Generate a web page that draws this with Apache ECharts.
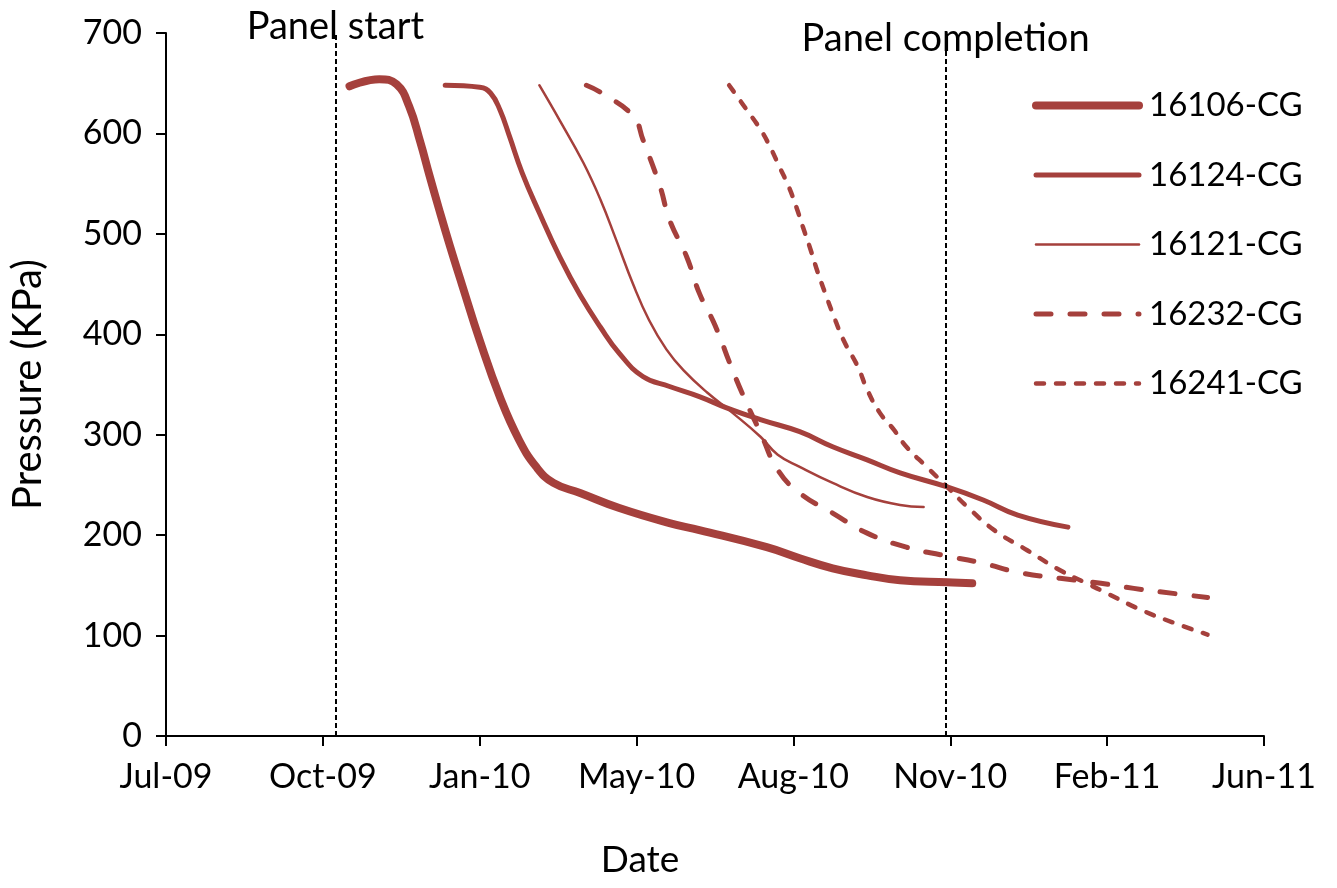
<!DOCTYPE html>
<html>
<head>
<meta charset="utf-8">
<script src="https://cdn.jsdelivr.net/npm/echarts@6/dist/echarts.min.js"></script>
<style>
  html, body { margin: 0; padding: 0; background: #fff; }
  #chart { width: 1337px; height: 888px; }
</style>
</head>
<body>
<div id="chart"></div>
<script>
// Gas pressure readings (KPa) by date for each gauge
const seriesNames = ['16106-CG', '16124-CG', '16121-CG', '16232-CG', '16241-CG'];

const dates16106 = ['2009-10-31','2009-11-19','2009-11-30','2009-12-08','2009-12-15','2009-12-21','2009-12-27','2010-01-03','2010-01-11','2010-01-22','2010-02-04','2010-02-16','2010-02-27','2010-03-10','2010-03-27','2010-04-21','2010-05-23','2010-06-11','2010-07-24','2010-08-14','2010-09-04','2010-09-26','2010-10-17','2010-11-16','2010-12-02'];
const kpa16106   = [647, 654, 649, 627, 592, 558, 525, 488, 448, 394, 337, 295, 268, 252, 242, 227, 212, 205, 188, 177, 167, 160, 155, 153, 152];

const dates16124 = ['2009-12-31','2010-01-22','2010-01-29','2010-02-04','2010-02-10','2010-02-18','2010-03-01','2010-03-14','2010-03-27','2010-04-09','2010-04-21','2010-05-06','2010-05-23','2010-06-11','2010-06-28','2010-07-20','2010-08-14','2010-09-04','2010-09-26','2010-10-17','2010-11-16','2010-12-09','2010-12-31','2011-02-01'];
const kpa16124   = [648, 646, 640, 623, 597, 561, 521, 477, 439, 407, 381, 358, 348, 338, 327, 315, 303, 288, 275, 262, 248, 235, 220, 208];

const dates16121 = ['2010-03-01','2010-03-14','2010-03-29','2010-04-09','2010-04-19','2010-04-30','2010-05-10','2010-05-21','2010-06-01','2010-06-16','2010-07-02','2010-07-20','2010-07-31','2010-08-14','2010-09-04','2010-09-26','2010-10-17','2010-11-01'];
const kpa16121   = [648, 613, 571, 534, 494, 449, 414, 385, 364, 342, 322, 298, 280, 268, 252, 238, 230, 228];

const dates16232 = ['2010-03-31','2010-04-10','2010-04-30','2010-05-06','2010-05-17','2010-05-23','2010-06-03','2010-06-11','2010-06-21','2010-07-02','2010-07-11','2010-07-20','2010-07-31','2010-08-14','2010-09-04','2010-09-26','2010-10-21','2010-11-13','2010-12-09','2010-12-31','2011-01-27','2011-02-22','2011-03-15','2011-04-09','2011-05-01'];
const kpa16232   = [648, 640, 617, 594, 547, 514, 477, 441, 409, 365, 332, 302, 265, 242, 222, 202, 188, 180, 172, 163, 157, 152, 147, 142, 138];

const dates16241 = ['2010-06-30','2010-07-11','2010-07-20','2010-07-26','2010-08-01','2010-08-07','2010-08-12','2010-08-16','2010-08-21','2010-08-25','2010-08-30','2010-09-04','2010-09-11','2010-09-20','2010-09-26','2010-10-04','2010-10-13','2010-10-21','2010-11-03','2010-11-16','2010-11-29','2010-12-16','2011-01-06','2011-01-27','2011-02-13','2011-02-26','2011-03-19','2011-04-09','2011-05-01'];
const kpa16241   = [648, 624, 604, 587, 567, 547, 526, 507, 484, 464, 442, 421, 394, 368, 345, 322, 305, 288, 268, 248, 228, 205, 185, 165, 152, 142, 126, 113, 101];

// Panel milestones drawn as vertical reference lines
const panelEvents = [
  { name: 'Panel start', date: '2009-10-22' },
  { name: 'Panel completion', date: '2010-11-15' }
];

// Date axis in spreadsheet day serials, 100-day steps
const axisMinSerial = 40000;
const axisMaxSerial = 40700;
const axisStepDays = 100;
const yTicks = [0, 100, 200, 300, 400, 500, 600, 700];

const EPOCH = Date.UTC(1899, 11, 30);
const DAY = 86400000;
const MONTHS = ['Jan','Feb','Mar','Apr','May','Jun','Jul','Aug','Sep','Oct','Nov','Dec'];

function toSerial(s) {
  const p = s.split('-').map(Number);
  return Math.round((Date.UTC(p[0], p[1] - 1, p[2]) - EPOCH) / DAY);
}
function serialLabel(v) {
  const d = new Date(EPOCH + v * DAY);
  return MONTHS[d.getUTCMonth()] + '-' + String(d.getUTCFullYear() % 100).padStart(2, '0');
}
function pairs(dates, vals) {
  return dates.map((d, i) => [toSerial(d), vals[i]]);
}

const RED = '#A5403C';
const FONT = 'Lato';

const styles = [
  { width: 8, type: 'solid' },
  { width: 5, type: 'solid' },
  { width: 2.5, type: 'solid' },
  { width: 5, type: [15, 19] },
  { width: 4.5, type: [8, 12] }
];
const dataSets = [
  pairs(dates16106, kpa16106),
  pairs(dates16124, kpa16124),
  pairs(dates16121, kpa16121),
  pairs(dates16232, kpa16232),
  pairs(dates16241, kpa16241)
];

const series = seriesNames.map((name, i) => ({
  name: name,
  type: 'line',
  data: dataSets[i],
  smooth: 0.45,
  showSymbol: false,
  symbol: 'none',
  lineStyle: { color: RED, width: styles[i].width, type: styles[i].type, cap: 'round', join: 'round' },
  itemStyle: { color: RED },
  z: 5 - i
}));

series[0].markLine = {
  silent: true,
  symbol: 'none',
  animation: false,
  lineStyle: { color: '#000', width: 2, type: [5, 3] },
  label: {
    show: true,
    position: 'end',
    formatter: '{b}',
    color: '#000',
    fontFamily: FONT,
    fontSize: 38,
    distance: -13
  },
  data: panelEvents.map(e => ({ name: e.name, xAxis: toSerial(e.date) }))
};
series[0].markLine.data[1].label = { distance: -25 };

const chart = echarts.init(document.getElementById('chart'), null, { renderer: 'canvas' });
chart.setOption({
  animation: false,
  backgroundColor: '#fff',
  grid: { left: 166, right: 73, top: 33, bottom: 152 },
  legend: {
    orient: 'vertical',
    left: 1030,
    top: 84,
    padding: [5, 5, 5, 2],
    itemWidth: 103,
    itemHeight: 30,
    itemGap: 36.5,
    textStyle: { fontFamily: FONT, fontSize: 33, color: '#000', padding: [0, 0, 0, 5] },
    data: seriesNames.map((n, i) => ({
      name: n,
      itemStyle: { opacity: 0 },
      lineStyle: { color: RED, width: styles[i].width, type: styles[i].type, cap: 'round' }
    }))
  },
  xAxis: {
    type: 'value',
    min: axisMinSerial,
    max: axisMaxSerial,
    interval: axisStepDays,
    name: 'Date',
    nameLocation: 'middle',
    nameGap: 106,
    nameTextStyle: { fontFamily: FONT, fontSize: 37, color: '#000', padding: [0, 150, 0, 0] },
    axisLine: { lineStyle: { color: '#000', width: 2 } },
    axisTick: { show: true, length: 10, lineStyle: { color: '#000', width: 2 } },
    axisLabel: { formatter: serialLabel, fontFamily: FONT, fontSize: 34, color: '#000', margin: 24 },
    splitLine: { show: false }
  },
  yAxis: {
    type: 'value',
    min: yTicks[0],
    max: yTicks[yTicks.length - 1],
    interval: 100,
    name: 'Pressure (KPa)',
    nameLocation: 'middle',
    nameGap: 118,
    nameRotate: 90,
    nameTextStyle: { fontFamily: FONT, fontSize: 40, color: '#000' },
    axisLine: { show: true, lineStyle: { color: '#000', width: 2 } },
    axisTick: { show: true, length: 10, lineStyle: { color: '#000', width: 2 } },
    axisLabel: { fontFamily: FONT, fontSize: 34, color: '#000', margin: 24 },
    splitLine: { show: false }
  },
  series: series
});
</script>
</body>
</html>
